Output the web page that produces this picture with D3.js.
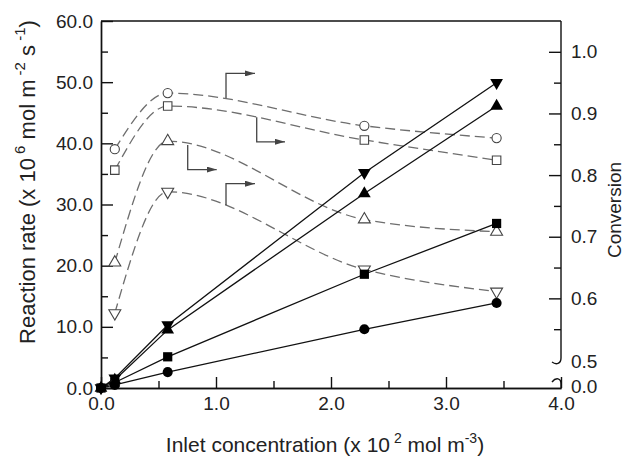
<!DOCTYPE html>
<html>
<head>
<meta charset="utf-8">
<script src="https://cdn.jsdelivr.net/npm/d3@7"></script>
<style>
  body { margin: 0; background: #fff; }
  text { font-family: "Liberation Sans", Arial, sans-serif; fill: #222; }
</style>
</head>
<body>
<div class="chart"></div>
<script>
// data
var concRate = [0, 0.12, 0.58, 2.29, 3.44];
var rateCircle = [0, 0.5, 2.6, 9.6, 13.9];
var rateSquare = [0, 0.9, 5.1, 18.6, 26.9];
var rateUp = [0, 1.3, 9.5, 31.8, 46.1];
var rateDown = [0, 1.6, 10.3, 35.2, 49.9];

var concConv = [0.12, 0.58, 2.29, 3.44];
var convCircle = [0.842, 0.933, 0.880, 0.860];
var convSquare = [0.808, 0.912, 0.857, 0.824];
var convUp = [0.658, 0.855, 0.728, 0.708];
var convDown = [0.576, 0.773, 0.647, 0.611];

// arrows pointing at the conversion axis: [x, y on curve, y of elbow, x end]
var arrowCircle = [1.087, 0.925, 0.965, 1.339];
var arrowSquare = [1.354, 0.894, 0.854, 1.600];
var arrowUp = [0.754, 0.849, 0.809, 1.006];
var arrowDown = [1.087, 0.751, 0.786, 1.339];

var xTicks = [0, 1, 2, 3, 4];
var yLeftTicks = [0, 10, 20, 30, 40, 50, 60];
var yRightTicks = [0.6, 0.7, 0.8, 0.9, 1.0];

var svgWidth = 624, svgHeight = 457;
var pLeft = 101, pRight = 561, pTop = 21, pBottom = 388;

var svg = d3.select(".chart").append("svg")
    .attr("width", svgWidth)
    .attr("height", svgHeight);

var x = d3.scaleLinear().domain([0, 4]).range([pLeft, pRight]);
var yL = d3.scaleLinear().domain([0, 60]).range([pBottom, pTop]);
var yR = d3.scaleLinear().domain([0.5, 1.05]).range([360, pTop]);

// axes
var fmt = d3.format(".1f");

svg.append("g").attr("transform", "translate(0," + pBottom + ")")
    .call(d3.axisBottom(x).tickValues(d3.range(0.5, 4, 1)).tickSize(-7).tickSizeOuter(0).tickFormat(""));
svg.append("g").attr("transform", "translate(0," + pBottom + ")")
    .call(d3.axisBottom(x).tickValues(xTicks).tickSize(-11).tickSizeOuter(0).tickPadding(9).tickFormat(fmt));

svg.append("g").attr("transform", "translate(" + pLeft + ",0)")
    .call(d3.axisLeft(yL).tickValues(d3.range(5, 60, 10)).tickSize(-7).tickSizeOuter(0).tickFormat(""));
svg.append("g").attr("transform", "translate(" + pLeft + ",0)")
    .call(d3.axisLeft(yL).tickValues(yLeftTicks).tickSize(-12).tickSizeOuter(0).tickPadding(8).tickFormat(fmt));

svg.append("g").attr("transform", "translate(" + pRight + ",0)")
    .call(d3.axisRight(yR).tickValues(d3.range(0.55, 1.0, 0.1)).tickSize(-7).tickFormat(""))
    .call(function(g) { g.select(".domain").remove(); });
svg.append("g").attr("transform", "translate(" + pRight + ",0)")
    .call(d3.axisRight(yR).tickValues(yRightTicks).tickSize(-12).tickPadding(10).tickFormat(fmt))
    .call(function(g) { g.select(".domain").remove(); });

svg.selectAll(".tick text").style("font-size", "19px").style("font-family", "Liberation Sans, Arial, sans-serif").attr("fill", "#222");
svg.selectAll(".domain, .tick line").attr("stroke", "#111").attr("stroke-width", 1.4);

// right axis labels for the break
svg.append("text").attr("x", pRight + 10).attr("y", yR(0.5) + 1).attr("dy", "0.35em")
    .style("font-size", "19px").text("0.5");
svg.append("text").attr("x", pRight + 10).attr("y", pBottom - 2).attr("dy", "0.35em")
    .style("font-size", "19px").text("0.0");

// top line and broken right axis
svg.append("line").attr("x1", pLeft).attr("x2", pRight).attr("y1", pTop).attr("y2", pTop)
    .attr("stroke", "#111").attr("stroke-width", 1.4);
svg.append("path")
    .attr("d", "M" + pRight + "," + pTop + "V" + (yR(0.5) - 2) + "C" + pRight + "," + (yR(0.5) + 4) + " " + (pRight - 5) + "," + (yR(0.5) + 5) + " " + (pRight - 9) + "," + (yR(0.5) + 2))
    .attr("fill", "none").attr("stroke", "#111").attr("stroke-width", 1.4);
svg.append("path")
    .attr("d", "M" + (pRight - 9) + "," + (pBottom - 6) + "C" + (pRight - 5) + "," + (pBottom - 11) + " " + pRight + "," + (pBottom - 10) + " " + pRight + "," + (pBottom - 4) + "V" + pBottom)
    .attr("fill", "none").attr("stroke", "#111").attr("stroke-width", 1.4);

// axis titles
var xt = svg.append("text").attr("x", 325).attr("y", 452).attr("text-anchor", "middle").style("font-size", "21px");
xt.append("tspan").text("Inlet concentration (x 10");
xt.append("tspan").attr("dy", -9).style("font-size", "14px").text(" 2");
xt.append("tspan").attr("dy", 9).text(" mol m");
xt.append("tspan").attr("dy", -9).style("font-size", "14px").text("-3");
xt.append("tspan").attr("dy", 9).text(")");

var yt = svg.append("text").attr("transform", "translate(35,182) rotate(-90)").attr("text-anchor", "middle").style("font-size", "22px");
yt.append("tspan").text("Reaction rate (x 10");
yt.append("tspan").attr("dy", -10).style("font-size", "15px").text(" 6");
yt.append("tspan").attr("dy", 10).text(" mol m");
yt.append("tspan").attr("dy", -10).style("font-size", "15px").text(" -2");
yt.append("tspan").attr("dy", 10).text(" s");
yt.append("tspan").attr("dy", -10).style("font-size", "15px").text(" -1");
yt.append("tspan").attr("dy", 10).text(")");

svg.append("text").attr("transform", "translate(621,210) rotate(-90)").attr("text-anchor", "middle")
    .style("font-size", "19px").text("Conversion");

// conversion curves (dashed)
var convSeries = [
    {vals: convCircle, shape: d3.symbolCircle, size: 66, rot: 0},
    {vals: convSquare, shape: d3.symbolSquare, size: 72, rot: 0},
    {vals: convUp, shape: d3.symbolTriangle, size: 62, rot: 0},
    {vals: convDown, shape: d3.symbolTriangle, size: 62, rot: 180}
];
var convLine = d3.line().curve(d3.curveMonotoneX)
    .x(function(d) { return x(d[0]); })
    .y(function(d) { return yR(d[1]); });

convSeries.forEach(function(s) {
    var pts = concConv.map(function(c, i) { return [c, s.vals[i]]; });
    svg.append("path").datum(pts).attr("d", convLine)
        .attr("fill", "none").attr("stroke", "#6e6e6e").attr("stroke-width", 1.3)
        .attr("stroke-dasharray", "10,5");
    svg.selectAll(null).data(pts).enter().append("path")
        .attr("d", d3.symbol().type(s.shape).size(s.size))
        .attr("transform", function(d) { return "translate(" + x(d[0]) + "," + yR(d[1]) + ") rotate(" + s.rot + ")"; })
        .attr("fill", "#fff").attr("stroke", "#444").attr("stroke-width", 1.1);
});

// elbow arrows
svg.append("defs").append("marker")
    .attr("id", "head").attr("viewBox", "0 0 10 6").attr("refX", 10).attr("refY", 3)
    .attr("markerWidth", 10).attr("markerHeight", 6).attr("markerUnits", "userSpaceOnUse")
    .attr("orient", "auto")
    .append("path").attr("d", "M0,0L10,3L0,6Z").attr("fill", "#444");

[arrowCircle, arrowSquare, arrowUp, arrowDown].forEach(function(a) {
    svg.append("path")
        .attr("d", "M" + x(a[0]) + "," + yR(a[1]) + "V" + yR(a[2]) + "H" + x(a[3]))
        .attr("fill", "none").attr("stroke", "#444").attr("stroke-width", 1.3)
        .attr("marker-end", "url(#head)");
});

// reaction rate lines (solid)
var rateSeries = [
    {vals: rateCircle, shape: d3.symbolCircle, size: 80, rot: 0},
    {vals: rateSquare, shape: d3.symbolSquare, size: 85, rot: 0},
    {vals: rateUp, shape: d3.symbolTriangle, size: 70, rot: 0},
    {vals: rateDown, shape: d3.symbolTriangle, size: 70, rot: 180}
];
var rateLine = d3.line()
    .x(function(d) { return x(d[0]); })
    .y(function(d) { return yL(d[1]); });

rateSeries.forEach(function(s) {
    var pts = concRate.map(function(c, i) { return [c, s.vals[i]]; });
    svg.append("path").datum(pts).attr("d", rateLine)
        .attr("fill", "none").attr("stroke", "#111").attr("stroke-width", 1.3);
    svg.selectAll(null).data(pts).enter().append("path")
        .attr("d", d3.symbol().type(s.shape).size(s.size))
        .attr("transform", function(d) { return "translate(" + x(d[0]) + "," + yL(d[1]) + ") rotate(" + s.rot + ")"; })
        .attr("fill", "#000");
});
</script>
</body>
</html>
